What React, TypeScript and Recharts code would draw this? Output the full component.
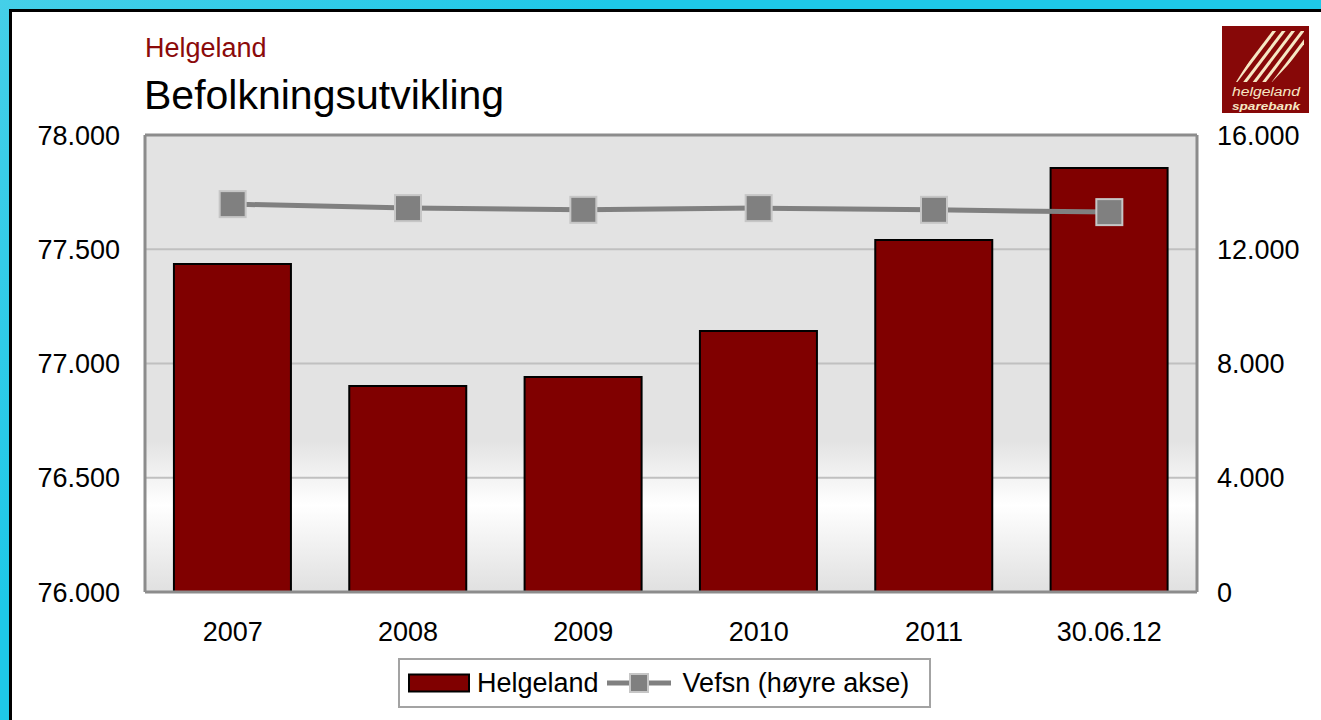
import { ComposedChart, Bar, Line, XAxis, YAxis, CartesianGrid, Legend, ReferenceLine } from "recharts";

const categories = ['2007', '2008', '2009', '2010', '2011', '30.06.12'];
const helgeland = [77435, 76902, 76941, 77142, 77540, 77856];
const vefsn = [13580, 13440, 13380, 13440, 13380, 13300];
const leftTicks = [76000, 76500, 77000, 77500, 78000];
const rightTicks = [0, 4000, 8000, 12000, 16000];

const data = categories.map((name, i) => ({ name, helgeland: helgeland[i], vefsn: vefsn[i] }));

const FONT = '"Liberation Sans", Arial, sans-serif';

const fmt = (v: number) => (v === 0 ? '0' : String(v).replace(/\B(?=(\d{3})+(?!\d))/g, '.'));

const SquareDot = (props: any) => {
    const { cx, cy, index } = props;
    if (cx == null || cy == null) return null;
    return <rect key={`dot-${index}`} x={cx - 13} y={cy - 13} width={26} height={26} fill="#808080" stroke="#c6c6c6" strokeWidth={2} />;
};

const LegendBox = () => (
    <div style={{
        boxSizing: 'border-box', width: 533, height: 50, border: '2px solid #a3a3a3', background: '#fff',
        display: 'flex', alignItems: 'center', paddingLeft: 8, fontFamily: FONT, fontSize: 27, color: '#000',
        whiteSpace: 'nowrap',
    }}>
        <svg width={62} height={20} style={{ display: 'block' }}>
            <rect x={1} y={1.5} width={60} height={17} fill="#800000" stroke="#000" strokeWidth={2} />
        </svg>
        <span style={{ marginLeft: 7 }}>Helgeland</span>
        <svg width={64} height={24} style={{ display: 'block', marginLeft: 8 }}>
            <line x1={0} y1={12} x2={64} y2={12} stroke="#808080" strokeWidth={5} />
            <rect x={23} y={3} width={18} height={18} fill="#808080" stroke="#c6c6c6" strokeWidth={2} />
        </svg>
        <span style={{ marginLeft: 12 }}>Vefsn (høyre akse)</span>
    </div>
);

const Logo = () => (
    <svg width={87} height={87} style={{ position: 'absolute', left: 1222, top: 26 }}>
        <defs>
            <clipPath id="stripeClip">
                <polygon points="46,5 82,5 82,22 50,56 14,56" />
            </clipPath>
        </defs>
        <rect x={0} y={0} width={87} height={87} fill="#870808" />
        <g clipPath="url(#stripeClip)" stroke="#f6e7c4" strokeWidth={3}>
            {[0, 1, 2, 3, 4, 5, 6, 7].map((k) => (
                <line key={k} x1={6 + k * 9.5} y1={66} x2={56 + k * 9.5} y2={0} />
            ))}
        </g>
        <text x={44} y={70} textAnchor="middle" fontFamily={FONT} fontSize={12.5} fontStyle="italic" fill="#f6e7c4"
            textLength={68} lengthAdjust="spacingAndGlyphs">helgeland</text>
        <text x={44} y={84} textAnchor="middle" fontFamily={FONT} fontSize={11.5} fontStyle="italic" fontWeight="bold" fill="#f6e7c4"
            textLength={68} lengthAdjust="spacingAndGlyphs">sparebank</text>
    </svg>
);

function App() {
    return (
        <div style={{
            position: 'fixed', left: 0, top: 0, width: 1321, height: 720, overflow: 'hidden',
            background: 'linear-gradient(135deg, #45cfe8 0%, #1ec8e8 30%, #1ec8e8 100%)',
        }}>
            <div style={{
                position: 'absolute', left: 9, top: 9, width: 1400, height: 800, background: '#fff',
                border: '3px solid #000', boxSizing: 'border-box',
            }} />
            <div style={{ position: 'absolute', left: 145, top: 35, fontFamily: FONT, fontSize: 27, lineHeight: 1, color: '#8b0a0a', whiteSpace: 'nowrap' }}>
                Helgeland
            </div>
            <div style={{ position: 'absolute', left: 144, top: 75, fontFamily: FONT, fontSize: 41, lineHeight: 1, color: '#000', whiteSpace: 'nowrap' }}>
                Befolkningsutvikling
            </div>
            <Logo />
            <div style={{ position: 'absolute', left: 0, top: 0 }}>
                <ComposedChart width={1321} height={720} data={data} barCategoryGap="16.5%"
                    margin={{ top: 135, right: 14, left: 10, bottom: 68 }}>
                    <defs>
                        <linearGradient id="plotBg" x1="0" y1="0" x2="0" y2="1">
                            <stop offset="0%" stopColor="#e3e3e3" />
                            <stop offset="67%" stopColor="#e3e3e3" />
                            <stop offset="81%" stopColor="#ffffff" />
                            <stop offset="100%" stopColor="#e0e0e0" />
                        </linearGradient>
                    </defs>
                    <CartesianGrid yAxisId="left" vertical={false} stroke="#c0c0c0" strokeWidth={2} fill="url(#plotBg)" fillOpacity={1} />
                    <XAxis dataKey="name" height={60} tickLine={false} tickSize={0} tickMargin={30}
                        axisLine={{ stroke: '#8c8c8c', strokeWidth: 3 }}
                        tick={{ fill: '#000', fontSize: 27, fontFamily: FONT }} />
                    <YAxis yAxisId="left" orientation="left" width={135} domain={[76000, 78000]} ticks={leftTicks}
                        tickFormatter={fmt} tickLine={false} tickSize={0} tickMargin={25}
                        axisLine={{ stroke: '#8c8c8c', strokeWidth: 3 }}
                        tick={{ fill: '#000', fontSize: 27, fontFamily: FONT }} />
                    <YAxis yAxisId="right" orientation="right" width={110} domain={[0, 16000]} ticks={rightTicks}
                        tickFormatter={fmt} tickLine={false} tickSize={0} tickMargin={20}
                        axisLine={{ stroke: '#8c8c8c', strokeWidth: 3 }}
                        tick={{ fill: '#000', fontSize: 27, fontFamily: FONT, textAnchor: 'start' }} />
                    <ReferenceLine yAxisId="left" y={78000} stroke="#8c8c8c" strokeWidth={3} />
                    <Bar yAxisId="left" dataKey="helgeland" name="Helgeland" fill="#800000" stroke="#000" strokeWidth={2} isAnimationActive={false} />
                    <Line yAxisId="right" type="linear" dataKey="vefsn" name="Vefsn (høyre akse)" stroke="#808080" strokeWidth={5}
                        dot={SquareDot} activeDot={false} isAnimationActive={false} />
                    <Legend layout="horizontal" verticalAlign="middle" align="center" content={LegendBox}
                        wrapperStyle={{ position: 'absolute', left: 398, top: 658, width: 533, height: 50 }} />
                </ComposedChart>
            </div>
        </div>
    );
}

export default App;
